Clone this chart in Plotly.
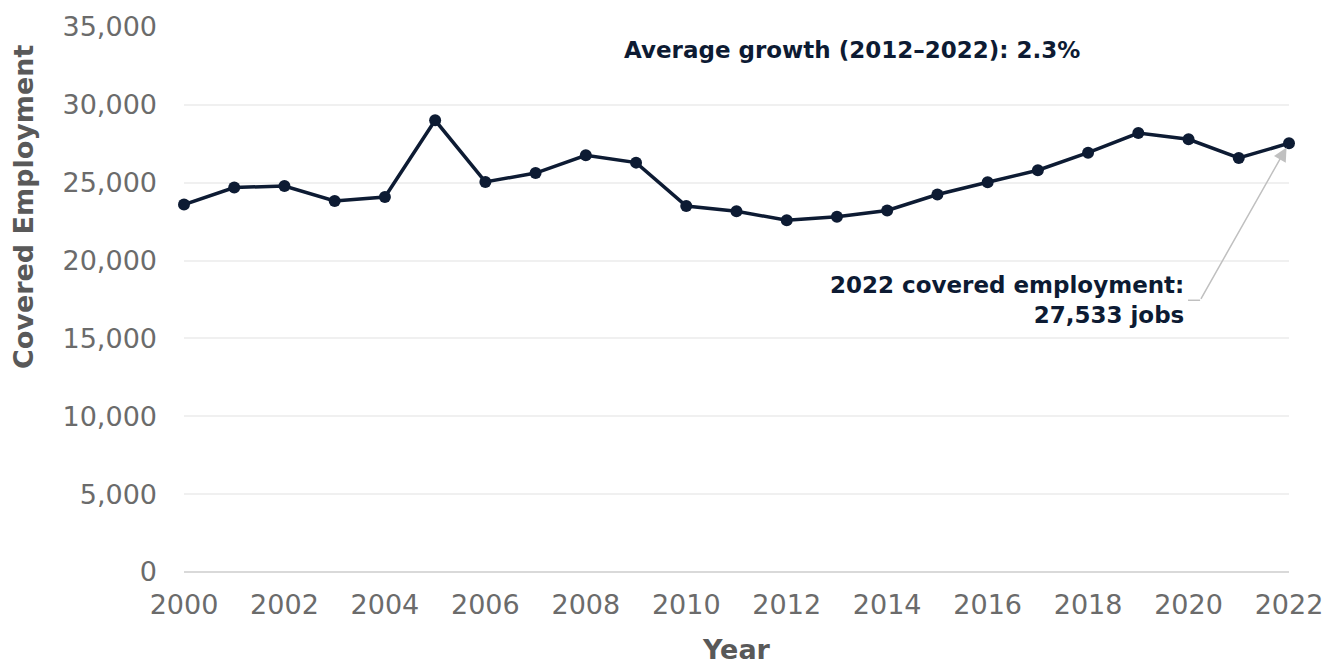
import plotly.graph_objects as go

years = list(range(2000, 2023))
employment = [23600, 24690, 24790, 23830, 24080, 29010, 25050, 25620, 26760, 26290,
              23500, 23170, 22590, 22820, 23220, 24240, 25030, 25800, 26930, 28190,
              27790, 26590, 27533]
y_ticks = [0, 5000, 10000, 15000, 20000, 25000, 30000, 35000]
x_ticks = list(range(2000, 2023, 2))

FONT = "DejaVu Sans"
NAVY = "#0d1b33"
GRAY = "#595959"
TICK_GRAY = "#6b6b6b"

fig = go.Figure()
fig.add_trace(go.Scatter(
    x=years, y=employment, mode="lines+markers",
    line=dict(color=NAVY, width=3.5),
    marker=dict(color=NAVY, size=12),
    cliponaxis=False, showlegend=False,
))

fig.add_annotation(
    x=2013.3, y=33550, xref="x", yref="y",
    text="<b>Average growth (2012–2022): 2.3%</b>",
    showarrow=False, font=dict(family=FONT, size=23, color=NAVY),
    xanchor="center", yanchor="middle",
)
fig.add_annotation(
    x=2019.95, y=17450, xref="x", yref="y",
    text="<b>2022 covered employment:</b><br><b>27,533 jobs</b>",
    showarrow=False, align="right", font=dict(family=FONT, size=23, color=NAVY),
    xanchor="right", yanchor="middle",
)
fig.add_annotation(
    x=2022, y=27533, xref="x", yref="y",
    ax=2020.23, ay=17450, axref="x", ayref="y",
    text="", showarrow=True, arrowhead=2, arrowsize=1.8, arrowwidth=1.5,
    arrowcolor="#c0c0c0", standoff=5,
)
fig.add_shape(type="line", x0=2019.99, x1=2020.23, y0=17450, y1=17450,
              xref="x", yref="y", line=dict(color="#c0c0c0", width=1.5))

# axis titles as annotations, placed as in the reference
fig.add_annotation(
    x=-0.145, y=0.671, xref="paper", yref="paper",
    text="<b>Covered Employment</b>", textangle=-90, showarrow=False,
    font=dict(family=FONT, size=27, color=GRAY), xanchor="center", yanchor="middle",
)
fig.add_annotation(
    x=0.5, y=-0.143, xref="paper", yref="paper",
    text="<b>Year</b>", showarrow=False,
    font=dict(family=FONT, size=27, color=GRAY), xanchor="center", yanchor="middle",
)

# the page body has an 8px margin, so the figure is shifted by 8px
fig.update_layout(
    width=1328, height=659,
    margin=dict(l=176, r=47, t=19, b=95),
    paper_bgcolor="white", plot_bgcolor="white",
    font=dict(family=FONT, color=GRAY),
    xaxis=dict(
        range=[2000, 2022], tickvals=x_ticks, ticktext=[str(t) for t in x_ticks],
        showgrid=False, zeroline=False, showline=False, automargin=False,
        tickfont=dict(family=FONT, size=27, color=TICK_GRAY),
        ticks="", ticklabelstandoff=14,
    ),
    yaxis=dict(
        range=[0, 35000], tickvals=y_ticks, ticktext=[f"{v:,}" for v in y_ticks],
        showgrid=True, gridcolor="#f0f0f0", gridwidth=1.5,
        zeroline=True, zerolinecolor="#d9d9d9", zerolinewidth=2, automargin=False,
        tickfont=dict(family=FONT, size=27, color=TICK_GRAY),
        ticks="", ticklabelstandoff=26,
    ),
)

fig.write_html("out.html")
